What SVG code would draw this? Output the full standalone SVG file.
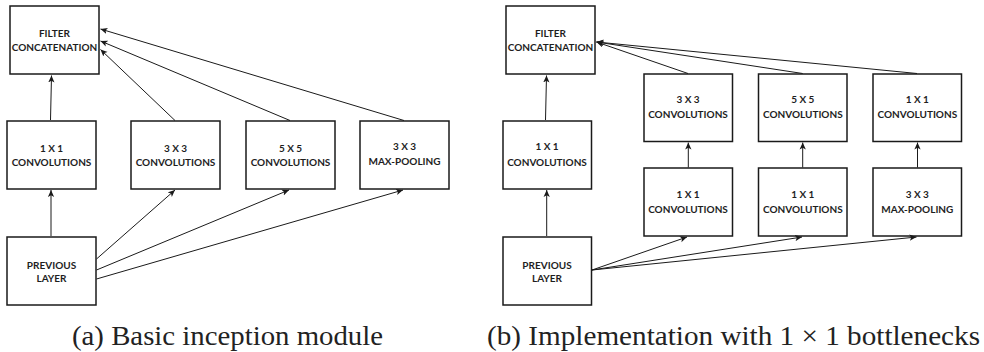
<svg xmlns="http://www.w3.org/2000/svg" width="984" height="352" viewBox="0 0 984 352">
<style>
.box{fill:#fff;stroke:#1a1a1a;stroke-width:1.5}
.lbl{font-family:Lato,"Liberation Sans",Arial,sans-serif;font-weight:bold;font-size:10px;fill:#1e1e1e;text-anchor:middle}
.cap{font-family:"Liberation Serif","Times New Roman",serif;font-size:26.4px;fill:#222}
.edge{stroke:#1a1a1a;stroke-width:1;fill:none;marker-end:url(#ah)}
</style>
<defs>
<marker id="ah" viewBox="0 0 10 10" refX="10" refY="5" markerWidth="7" markerHeight="7" markerUnits="userSpaceOnUse" orient="auto">
<path d="M0,0.5 L10,5 L0,9.5 L2.5,5 Z" fill="#1a1a1a"/>
</marker>
</defs>
<rect width="984" height="352" fill="#fff"/>

<!-- Panel (a) -->
<g id="a-filter"><rect class="box" x="10" y="6" width="89" height="68"/><text class="lbl" x="54.5" y="36.5">FILTER</text><text class="lbl" x="54.5" y="50.5">CONCATENATION</text></g>
<g id="a-conv1"><rect class="box" x="7" y="121" width="89" height="68"/><text class="lbl" x="51.5" y="152.3">1 X 1</text><text class="lbl" x="51.5" y="165.6">CONVOLUTIONS</text></g>
<g id="a-conv3"><rect class="box" x="131" y="121" width="89" height="68"/><text class="lbl" x="175.5" y="152.3">3 X 3</text><text class="lbl" x="175.5" y="165.6">CONVOLUTIONS</text></g>
<g id="a-conv5"><rect class="box" x="246" y="121" width="89" height="68"/><text class="lbl" x="290.5" y="152.3">5 X 5</text><text class="lbl" x="290.5" y="165.6">CONVOLUTIONS</text></g>
<g id="a-pool"><rect class="box" x="360" y="121" width="89" height="68"/><text class="lbl" x="404.5" y="150">3 X 3</text><text class="lbl" x="404.5" y="164.5">MAX-POOLING</text></g>
<g id="a-prev"><rect class="box" x="7" y="237" width="89" height="68"/><text class="lbl" x="51.5" y="269">PREVIOUS</text><text class="lbl" x="51.5" y="281.8">LAYER</text></g>

<!-- Panel (b) -->
<g id="b-filter"><rect class="box" x="506" y="6" width="89" height="68"/><text class="lbl" x="550.5" y="36.5">FILTER</text><text class="lbl" x="550.5" y="50.5">CONCATENATION</text></g>
<g id="b-conv1"><rect class="box" x="503" y="121" width="88.5" height="68"/><text class="lbl" x="547" y="150.3">1 X 1</text><text class="lbl" x="547" y="165.6">CONVOLUTIONS</text></g>
<g id="b-conv3"><rect class="box" x="644" y="74" width="88.5" height="67.5"/><text class="lbl" x="688" y="103.3">3 X 3</text><text class="lbl" x="688" y="118.3">CONVOLUTIONS</text></g>
<g id="b-conv5"><rect class="box" x="758.5" y="74" width="88.5" height="67.5"/><text class="lbl" x="802.8" y="103.3">5 X 5</text><text class="lbl" x="802.8" y="118.3">CONVOLUTIONS</text></g>
<g id="b-convp"><rect class="box" x="873" y="74" width="88.5" height="67.5"/><text class="lbl" x="917.3" y="103.3">1 X 1</text><text class="lbl" x="917.3" y="118.3">CONVOLUTIONS</text></g>
<g id="b-red3"><rect class="box" x="644" y="168" width="88.5" height="68"/><text class="lbl" x="688" y="198.3">1 X 1</text><text class="lbl" x="688" y="212.6">CONVOLUTIONS</text></g>
<g id="b-red5"><rect class="box" x="758.5" y="168" width="88.5" height="68"/><text class="lbl" x="802.8" y="198.3">1 X 1</text><text class="lbl" x="802.8" y="212.6">CONVOLUTIONS</text></g>
<g id="b-pool"><rect class="box" x="873" y="168" width="88.5" height="68"/><text class="lbl" x="917.3" y="198.3">3 X 3</text><text class="lbl" x="917.3" y="212.6">MAX-POOLING</text></g>
<g id="b-prev"><rect class="box" x="503" y="237" width="88.5" height="68"/><text class="lbl" x="547" y="269">PREVIOUS</text><text class="lbl" x="547" y="281.8">LAYER</text></g>

<g id="connectors">
<line class="edge" x1="50.5" y1="120" x2="51.5" y2="75.5"/>
<line class="edge" x1="175" y1="120.5" x2="100.5" y2="49.5"/>
<line class="edge" x1="290" y1="120.5" x2="100.5" y2="41"/>
<line class="edge" x1="404" y1="120.5" x2="100.5" y2="29"/>
<line class="edge" x1="51" y1="236" x2="51" y2="190"/>
<line class="edge" x1="96.5" y1="259" x2="175" y2="190"/>
<line class="edge" x1="96.5" y1="270" x2="289" y2="190"/>
<line class="edge" x1="96.5" y1="279" x2="403" y2="190"/>

<line class="edge" x1="545.5" y1="120" x2="546.5" y2="75.5"/>
<line class="edge" x1="688" y1="73.5" x2="596.5" y2="42"/>
<line class="edge" x1="802.7" y1="73.5" x2="596.5" y2="42"/>
<line class="edge" x1="917" y1="73.5" x2="596.5" y2="42"/>
<line class="edge" x1="688.3" y1="167.5" x2="688.3" y2="142.5"/>
<line class="edge" x1="802.7" y1="167.5" x2="802.7" y2="142.5"/>
<line class="edge" x1="917.5" y1="167.5" x2="917.5" y2="142.5"/>
<line class="edge" x1="546.7" y1="236" x2="546.7" y2="190"/>
<line class="edge" x1="592" y1="270" x2="687" y2="237"/>
<line class="edge" x1="592" y1="270" x2="802" y2="237"/>
<line class="edge" x1="592" y1="270" x2="916.5" y2="237"/>
</g>

<text class="cap" x="72" y="345" textLength="311" lengthAdjust="spacingAndGlyphs">(a) Basic inception module</text>
<text class="cap" x="487" y="345" textLength="493" lengthAdjust="spacingAndGlyphs">(b) Implementation with 1 × 1 bottlenecks</text>
</svg>
